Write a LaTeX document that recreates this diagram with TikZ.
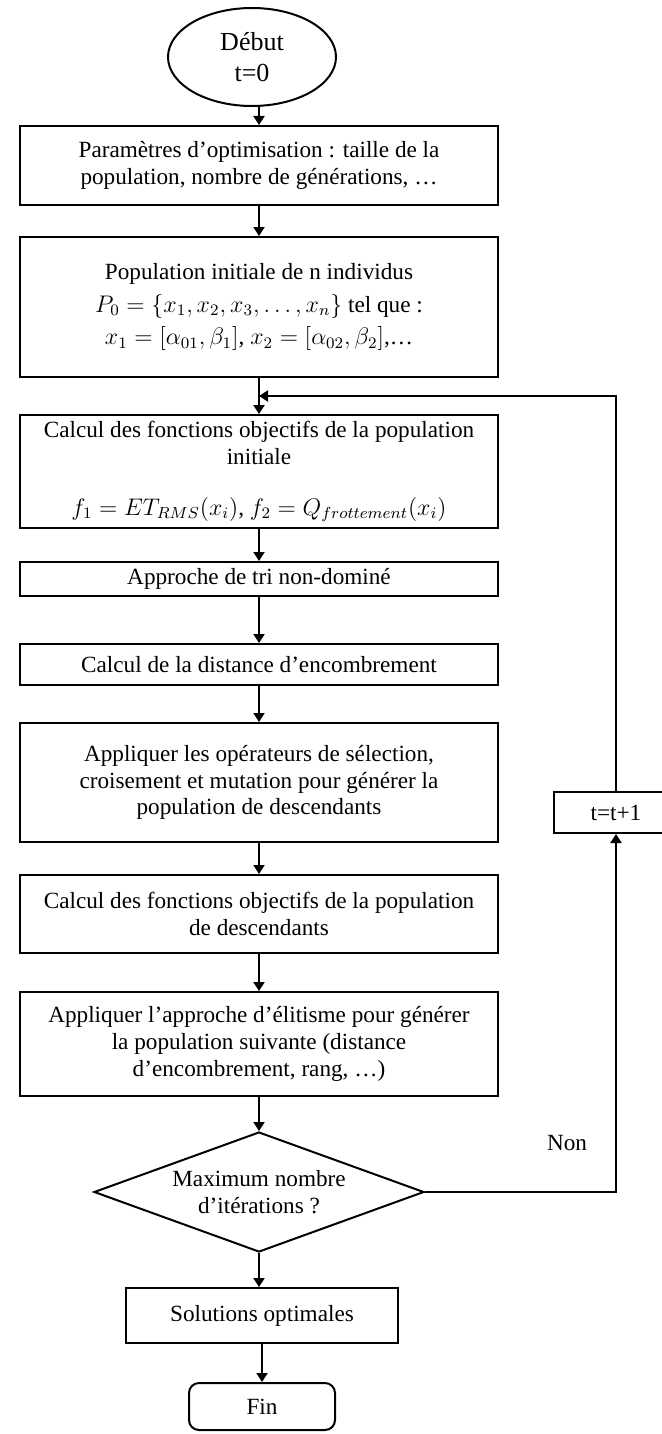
\documentclass[tikz,border=0pt]{standalone}
\usepackage{fontspec}
\setmainfont{Liberation Serif}
\usepackage{amsmath}
\usepackage{tikz}
\usetikzlibrary{arrows.meta,shapes.geometric,positioning}

\begin{document}
\begin{tikzpicture}[x=0.5pt,y=-0.5pt,
  every node/.style={font=\fontsize{11.6}{13.4}\selectfont},
  box/.style={draw,line width=1pt,align=center,inner sep=2pt,minimum width=239pt},
  flow/.style={line width=1pt,-{Triangle[length=4.5pt,width=5.5pt]}},
  link/.style={line width=1pt}]
\useasboundingbox (0,0) rectangle (662,1434);
\node[draw,line width=1pt,ellipse,align=center,inner sep=0pt,minimum width=84pt,minimum height=49pt,font=\fontsize{13}{15.5}\selectfont] (start) at (252,57) {Début\\t=0};
\node[box,minimum height=39.5pt] (param) at (259,165.5) {Paramètres d’optimisation : taille de la\\population, nombre de générations, …};
\node[box,minimum height=70pt] (pop) at (259,307) {Population initiale de n individus\\[3pt]$P_0=\{x_1,x_2,x_3,\ldots,x_n\}$ tel que :\\[3pt]$x_1=[\alpha_{01},\beta_1]$, $x_2=[\alpha_{02},\beta_2]$,…};
\node[box,minimum height=56.5pt] (eval) at (259,471.5) {Calcul des fonctions objectifs de la population\\initiale\\[12pt]$f_1=ET_{RMS}(x_i)$, $f_2=Q_{frottement}(x_i)$};
\node[box,minimum height=17pt] (tri) at (259,579) {Approche de tri non-dominé};
\node[box,minimum height=20.5pt] (dist) at (259,664.5) {Calcul de la distance d’encombrement};
\node[box,minimum height=59.5pt] (oper) at (259,782.5) {Appliquer les opérateurs de sélection,\\croisement et mutation pour générer la\\population de descendants};
\node[box,minimum height=39pt] (evald) at (259,914) {Calcul des fonctions objectifs de la population\\de descendants};
\node[box,minimum height=52pt] (elit) at (259,1044) {Appliquer l’approche d’élitisme pour générer\\la population suivante (distance\\d’encombrement, rang, …)};
\node[draw,line width=1pt,diamond,aspect=2.75,align=center,inner sep=0pt,minimum width=165pt,minimum height=60pt] (test) at (259,1192) {Maximum nombre\\d’itérations ?};
\node[box,minimum width=136pt,minimum height=27.5pt] (sol) at (262,1315.5) {Solutions optimales};
\node[draw,line width=1pt,rounded corners=5pt,minimum width=73pt,minimum height=23.5pt] (fin) at (262,1406.5) {Fin};
\node[box,minimum width=62pt,minimum height=20.5pt] (incr) at (616,812.5) {t=t+1};
\node (non) at (567,1143) {Non};
\coordinate (retour) at (259,396);

\draw[flow] (param.north |- start.south) -- (param.north);
\draw[flow] (param.south) -- (pop.north);
\draw[flow] (pop.south) -- (eval.north);
\draw[flow] (eval.south) -- (tri.north);
\draw[flow] (tri.south) -- (dist.north);
\draw[flow] (dist.south) -- (oper.north);
\draw[flow] (oper.south) -- (evald.north);
\draw[flow] (evald.south) -- (elit.north);
\draw[flow] (elit.south) -- (test.north);
\draw[flow] (test.south) -- (test.south |- sol.north);
\draw[flow] (sol.south) -- (fin.north);
\draw[flow] (test.east) -| (incr.south);
\draw[flow] (incr.north) |- (retour);
\end{tikzpicture}
\end{document}
